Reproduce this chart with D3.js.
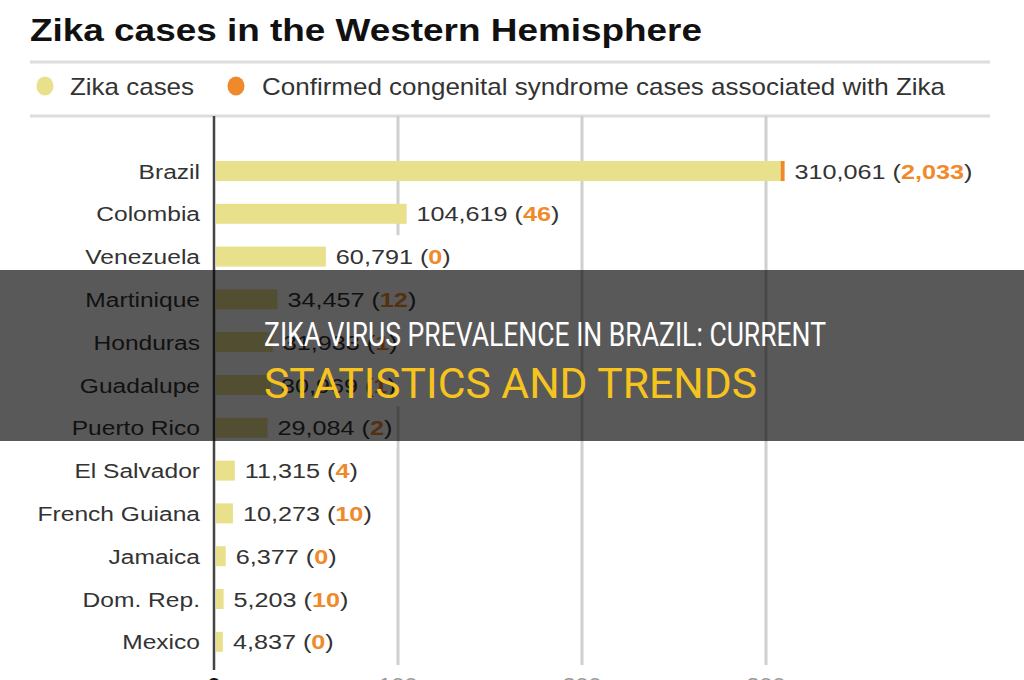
<!DOCTYPE html>
<html><head><meta charset="utf-8">
<script src="https://cdn.jsdelivr.net/npm/d3@7"></script>
<style>html,body{margin:0;padding:0;background:#fff;overflow:hidden}</style>
</head><body>
<svg id="chart" width="1024" height="680"></svg>
<script>
const countries = ["Brazil","Colombia","Venezuela","Martinique","Honduras","Guadalupe","Puerto Rico","El Salvador","French Guiana","Jamaica","Dom. Rep.","Mexico"];
const zikaCases = [310061,104619,60791,34457,31933,30969,29084,11315,10273,6377,5203,4837];
const congenitalCases = [2033,46,0,12,1,1,2,4,10,0,10,0];
const tickValues = [0,100000,200000,300000];
const tickLabels = ["0","100","200","300"];
const titleText = "Zika cases in the Western Hemisphere";
const legendLabels = ["Zika cases","Confirmed congenital syndrome cases associated with Zika"];
const bannerLines = ["ZIKA VIRUS PREVALENCE IN BRAZIL: CURRENT","STATISTICS AND TRENDS"];

const SX = 1.17, SXV = 1.2;
const FONT = "'Liberation Sans', Arial, sans-serif";
const YELLOW = "#e9e08c", ORANGE = "#ef8a2b", TEXT = "#333";
const svg = d3.select("#chart");
const fmt = d3.format(",");

const x = d3.scaleLinear().domain([0,300000]).range([214,766]);
const y = d3.scaleBand().domain(countries).range([149.6,663.2]).paddingInner(0.533).paddingOuter(0.2665);

// title
svg.append("text").attr("x",30).attr("y",41).text(titleText)
  .attr("font-family",FONT).attr("font-weight","bold").attr("font-size",31).attr("fill","#111")
  .attr("textLength",672).attr("lengthAdjust","spacingAndGlyphs");

// separators
[62,116].forEach(yy=>svg.append("line").attr("x1",30).attr("x2",990).attr("y1",yy).attr("y2",yy)
  .attr("stroke","#ddd").attr("stroke-width",3));

// legend
const legend = [{c:YELLOW,cx:45,tx:70,len:124},{c:ORANGE,cx:236,tx:262,len:683}];
legend.forEach((l,i)=>{
  svg.append("ellipse").attr("cx",l.cx).attr("cy",86).attr("rx",8.5).attr("ry",9.5).attr("fill",l.c);
  svg.append("text").attr("x",l.tx).attr("y",95).text(legendLabels[i])
    .attr("font-family",FONT).attr("font-size",24).attr("fill",TEXT)
    .attr("textLength",l.len).attr("lengthAdjust","spacingAndGlyphs");
});

// gridlines
svg.append("g").selectAll("line").data(tickValues.slice(1)).join("line")
  .attr("x1",d=>x(d)).attr("x2",d=>x(d)).attr("y1",116).attr("y2",665)
  .attr("stroke","#cfcfcf").attr("stroke-width",3);

const rows = countries.map((c,i)=>({c,z:zikaCases[i],k:congenitalCases[i]}));

// value labels (with white backgrounds)
const lg = svg.append("g");
const labels = lg.selectAll("g").data(rows).join("g");
labels.each(function(d){
  const g = d3.select(this);
  const lx = x(d.z)+10, ly = y(d.c)+y.bandwidth()/2+7.5;
  const bg = g.append("rect").attr("fill","#fff");
  const t = g.append("text").attr("transform",`translate(${lx},${ly}) scale(${SXV},1)`)
    .attr("font-family",FONT).attr("font-size",21).attr("fill",TEXT);
  t.append("tspan").text(fmt(d.z)+" (");
  t.append("tspan").text(fmt(d.k)).attr("fill",ORANGE).attr("font-weight","bold");
  t.append("tspan").text(")");
  const w = t.node().getBBox().width*SXV;
  bg.attr("x",lx-4).attr("y",y(d.c)+y.bandwidth()/2-21.4).attr("width",w+8).attr("height",42.8);
});

// bars
svg.append("g").selectAll("rect").data(rows).join("rect")
  .attr("x",x(0)+2).attr("y",d=>y(d.c)).attr("width",d=>x(d.z)-x(0)-2).attr("height",y.bandwidth())
  .attr("fill",YELLOW);
svg.append("g").selectAll("rect").data(rows.filter(d=>d.k>0)).join("rect")
  .attr("x",d=>x(d.z-d.k)).attr("y",d=>y(d.c)).attr("width",d=>x(d.z)-x(d.z-d.k)).attr("height",y.bandwidth())
  .attr("fill",ORANGE);

// country labels
svg.append("g").selectAll("text").data(countries).join("text")
  .attr("transform",d=>`translate(200,${y(d)+y.bandwidth()/2+7.5}) scale(${SX},1)`)
  .attr("text-anchor","end").attr("font-family",FONT).attr("font-size",21).attr("fill",TEXT).text(d=>d);

// zero axis line
svg.append("line").attr("x1",x(0)).attr("x2",x(0)).attr("y1",116).attr("y2",670)
  .attr("stroke","#444").attr("stroke-width",2.5);

// tick labels
svg.append("g").selectAll("text").data(tickValues).join("text")
  .attr("transform",(d,i)=>`translate(${x(d)},692) scale(${SX},1)`)
  .attr("text-anchor","middle").attr("font-family",FONT).attr("font-size",20)
  .attr("font-weight",(d,i)=>i===0?"bold":"normal")
  .attr("fill",(d,i)=>i===0?"#111":"#999").text((d,i)=>tickLabels[i]);

// banner overlay
svg.append("rect").attr("x",0).attr("y",270).attr("width",1024).attr("height",171).attr("fill","rgba(0,0,0,0.65)");
svg.append("text").attr("x",264).attr("y",346).text(bannerLines[0])
  .attr("font-family","Roboto, sans-serif").attr("font-size",33).attr("fill","#fff")
  .attr("textLength",562).attr("lengthAdjust","spacingAndGlyphs");
svg.append("text").attr("x",264).attr("y",398).text(bannerLines[1])
  .attr("font-family","Roboto, sans-serif").attr("font-size",42).attr("fill","#f7c41e")
  .attr("textLength",493).attr("lengthAdjust","spacingAndGlyphs");
</script>
</body></html>
